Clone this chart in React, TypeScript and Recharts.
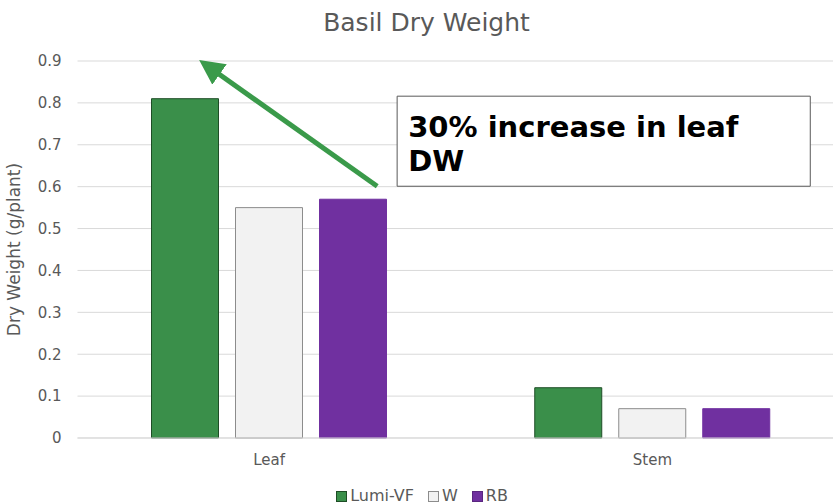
import { BarChart, Bar, XAxis, YAxis, CartesianGrid, Legend, ReferenceLine, ReferenceArea, Label } from 'recharts';

const parts = ['Leaf', 'Stem'];
const lumiVF = [0.81, 0.12];
const white = [0.55, 0.07];
const rb = [0.57, 0.07];
const yTicks = [0, 0.1, 0.2, 0.3, 0.4, 0.5, 0.6, 0.7, 0.8, 0.9];

const data = parts.map((p, i) => ({ part: p, 'Lumi-VF': lumiVF[i], W: white[i], RB: rb[i] }));

const series = [
  { key: 'Lumi-VF', fill: '#3a8f4a', stroke: '#1e4d26' },
  { key: 'W', fill: '#f2f2f2', stroke: '#8c8c8c' },
  { key: 'RB', fill: '#7030a0', stroke: '#7030a0' },
];

const font = '"DejaVu Sans", sans-serif';
const grey = '#595959';

const ArrowLine = (props: any) => {
  const { x1, y1, x2, y2 } = props;
  return (
    <g>
      <defs>
        <marker id="ah" markerWidth="5" markerHeight="5" refX="2.5" refY="2.5" orient="auto" markerUnits="strokeWidth">
          <path d="M0,0 L5,2.5 L0,5 z" fill="#3a9a4a" />
        </marker>
      </defs>
      <line x1={x1} y1={y1} x2={x2} y2={y2} stroke="#3a9a4a" strokeWidth={5} markerEnd="url(#ah)" />
    </g>
  );
};

const BoxText = (props: any) => {
  const { viewBox } = props;
  if (!viewBox) return null;
  const { x, y } = viewBox;
  return (
    <text x={x + 11} fontFamily={font} fontWeight={700} fontSize={29} fill="#000">
      <tspan x={x + 11} y={y + 41}>30% increase in leaf</tspan>
      <tspan x={x + 11} y={y + 75}>DW</tspan>
    </text>
  );
};

const LegendContent = () => (
  <div style={{ display: 'flex', justifyContent: 'center', gap: 14, fontFamily: font, fontSize: 16, color: grey, lineHeight: '22px' }}>
    {series.map((s) => (
      <span key={s.key} style={{ display: 'flex', alignItems: 'center' }}>
        <span style={{ width: 9, height: 9, background: s.fill, border: `1px solid ${s.stroke === '#7030a0' ? '#5a2680' : s.stroke}`, marginRight: 3 }} />
        {s.key}
      </span>
    ))}
  </div>
);

export default function App() {
  return (
    <div style={{ position: 'absolute', left: 0, top: 0, width: 833, height: 504, overflow: 'hidden', background: '#fff' }}>
      <div style={{ position: 'absolute', left: 0, top: 8, width: 853, textAlign: 'center', fontFamily: font, fontSize: 25, color: grey }}>
        Basil Dry Weight
      </div>
      <BarChart
        width={850}
        height={504}
        data={data}
        margin={{ top: 61, right: 6, left: 0, bottom: 0 }}
        barCategoryGap={74}
        barGap={17}
        style={{ fontFamily: font }}
      >
        <CartesianGrid vertical={false} stroke="#d9d9d9" />
        <XAxis dataKey="part" axisLine={{ stroke: '#d9d9d9' }} tickLine={false} tickSize={0} tickMargin={16} height={44} tick={{ fill: grey, fontSize: 15 }} />
        <XAxis xAxisId="num" type="number" domain={[0, 1]} allowDataOverflow hide />
        <YAxis
          width={77.5}
          domain={[0, 0.9]}
          ticks={yTicks}
          axisLine={false}
          tickLine={false}
          tickSize={0}
          tickMargin={16}
          tick={{ fill: grey, fontSize: 15 }}
          tickFormatter={(v: number) => (v === 0 ? '0' : v.toFixed(1))}
        >
          <Label value="Dry Weight (g/plant)" angle={-90} position="insideLeft" offset={14} style={{ textAnchor: 'middle', fill: grey, fontSize: 17, fontFamily: font }} />
        </YAxis>
        <Legend verticalAlign="bottom" height={22} content={<LegendContent />} wrapperStyle={{ bottom: -3 }} />
        {series.map((s) => (
          <Bar key={s.key} dataKey={s.key} fill={s.fill} stroke={s.stroke} strokeWidth={1} barSize={67} isAnimationActive={false} />
        ))}
        <ReferenceLine
          xAxisId="num"
          segment={[{ x: 0.391, y: 0.601 }, { x: 0.172, y: 0.885 }]}
          shape={<ArrowLine />}
          ifOverflow="visible"
        />
        <ReferenceArea
          xAxisId="num"
          x1={0.417}
          x2={0.956}
          y1={0.601}
          y2={0.816}
          fill="#fff"
          fillOpacity={1}
          stroke="#595959"
          strokeWidth={1}
          ifOverflow="visible"
          label={<BoxText />}
        />
      </BarChart>
    </div>
  );
}
